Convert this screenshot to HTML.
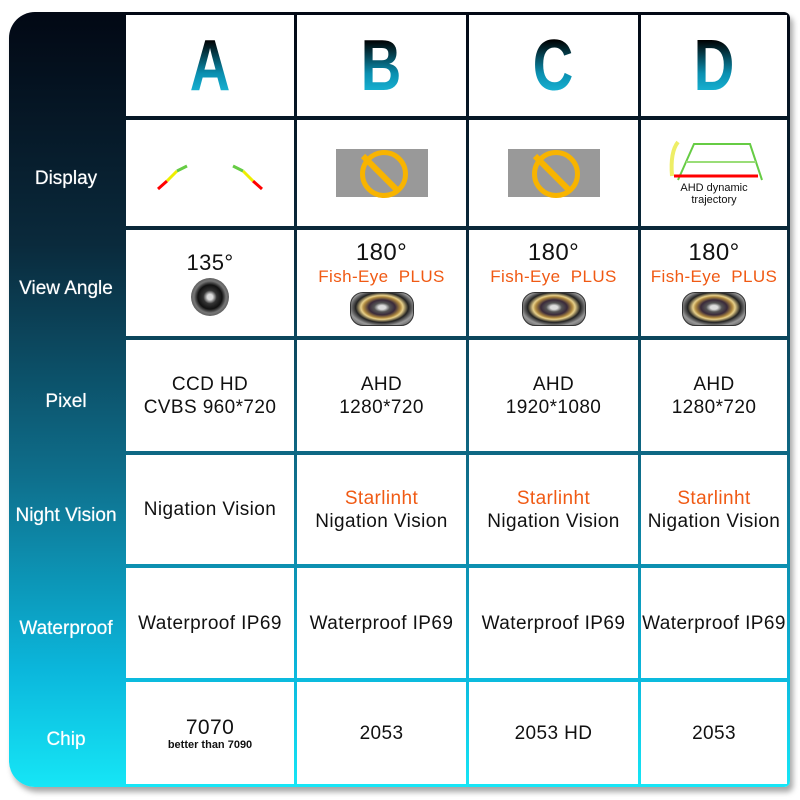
<!DOCTYPE html>
<html><head><meta charset="utf-8"><style>
body{margin:0;width:800px;height:800px;background:#fff;position:relative;overflow:hidden;font-family:"Liberation Sans",sans-serif}
#box{position:absolute;left:9px;top:12px;width:781px;height:775px;border-radius:26px 6px 6px 26px;background:linear-gradient(#020814 0%,#0a2a3c 30%,#0e6f8c 60%,#0bb7dc 85%,#16e6f6 100%);box-shadow:3px 5px 6px rgba(0,0,0,.35);overflow:hidden}
.c{position:absolute;background:#fff;display:flex;flex-direction:column;align-items:center;justify-content:center;text-align:center;color:#111;font-size:19px;line-height:23px;letter-spacing:.4px}
.l{position:absolute;left:0;width:114px;color:#fff;font-size:19px;display:flex;align-items:center;justify-content:center;text-align:center;padding-top:12px;box-sizing:border-box;text-shadow:0 0 .6px #fff}
.h{font-size:72px;font-weight:bold;background:linear-gradient(#000 15%,#0a8fb0 60%,#20c8e8);-webkit-background-clip:text;color:transparent;line-height:74px;display:inline-block;transform:scaleX(.78)}
.o{color:#f05a14}
.lens{width:62px;height:32px;border-radius:13px;background:radial-gradient(ellipse at 50% 45%,#ddd 0 8%,#555 18%,#3a2a3a 30%,#b08a40 42%,#e8d08a 48%,#222 60%,#999 75%,#444 100%);border:1px solid #333;margin-top:4px}
.no{width:92px;height:48px;background:#999;position:relative}
.no:after{content:"";position:absolute;left:24px;top:1px;width:38px;height:38px;border:5px solid #f8b400;border-radius:50%}
.no:before{content:"";position:absolute;left:41px;top:0;width:6px;height:48px;background:#f8b400;transform:rotate(-45deg);z-index:1}
</style></head><body>
<div id="box">
<div class="l" style="top:106px;height:110px">Display</div>
<div class="l" style="top:216px;height:110px">View Angle</div>
<div class="l" style="top:326px;height:115px">Pixel</div>
<div class="l" style="top:441px;height:113px">Night Vision</div>
<div class="l" style="top:554px;height:114px">Waterproof</div>
<div class="l" style="top:668px;height:107px">Chip</div>

<div class="c" style="left:117px;top:3px;width:168px;height:101px"><span class="h">A</span></div>
<div class="c" style="left:288px;top:3px;width:169px;height:101px"><span class="h">B</span></div>
<div class="c" style="left:460px;top:3px;width:169px;height:101px"><span class="h">C</span></div>
<div class="c" style="left:632px;top:3px;width:146px;height:101px"><span class="h">D</span></div>

<div class="c" style="left:117px;top:108px;width:168px;height:106px"><svg width="110" height="40"><g stroke-width="3" fill="none"><path d="M3 36 L12 28" stroke="red"/><path d="M12 28 L22 18" stroke="#ee0"/><path d="M22 18 L32 13" stroke="#6c4"/><path d="M107 36 L98 28" stroke="red"/><path d="M98 28 L88 18" stroke="#ee0"/><path d="M88 18 L78 13" stroke="#6c4"/></g></svg></div>
<div class="c" style="left:288px;top:108px;width:169px;height:106px"><div class="no"></div></div>
<div class="c" style="left:460px;top:108px;width:169px;height:106px"><div class="no"></div></div>
<div class="c" style="left:632px;top:108px;width:146px;height:106px"><svg width="100" height="42"><g fill="none" stroke-width="2"><path d="M14 40 L30 4 L86 4 L98 40" stroke="#6c4"/><path d="M22 22 L92 22" stroke="#9d7"/><path d="M10 36 L94 36" stroke="red" stroke-width="3"/><path d="M8 36 Q6 12 14 2" stroke="#ee6" stroke-width="4"/></g></svg><div style="font-size:11px;line-height:12px;letter-spacing:0">AHD dynamic<br>trajectory</div></div>

<div class="c" style="left:117px;top:218px;width:168px;height:106px"><div style="font-size:22px">135°</div><div style="width:38px;height:38px;border-radius:50%;background:radial-gradient(circle,#ddd 0 10%,#333 25%,#111 45%,#777 60%,#222 100%);margin-top:4px"></div></div>
<div class="c" style="left:288px;top:218px;width:169px;height:106px"><div style="font-size:24px;line-height:25px">180°</div><div class="o" style="font-size:17px">Fish-Eye&nbsp; PLUS</div><div class="lens"></div></div>
<div class="c" style="left:460px;top:218px;width:169px;height:106px"><div style="font-size:24px;line-height:25px">180°</div><div class="o" style="font-size:17px">Fish-Eye&nbsp; PLUS</div><div class="lens"></div></div>
<div class="c" style="left:632px;top:218px;width:146px;height:106px"><div style="font-size:24px;line-height:25px">180°</div><div class="o" style="font-size:17px">Fish-Eye&nbsp; PLUS</div><div class="lens"></div></div>

<div class="c" style="left:117px;top:328px;width:168px;height:111px">CCD HD<br>CVBS 960*720</div>
<div class="c" style="left:288px;top:328px;width:169px;height:111px">AHD<br>1280*720</div>
<div class="c" style="left:460px;top:328px;width:169px;height:111px">AHD<br>1920*1080</div>
<div class="c" style="left:632px;top:328px;width:146px;height:111px">AHD<br>1280*720</div>

<div class="c" style="left:117px;top:443px;width:168px;height:109px">Nigation Vision</div>
<div class="c" style="left:288px;top:443px;width:169px;height:109px"><span class="o">Starlinht</span>Nigation Vision</div>
<div class="c" style="left:460px;top:443px;width:169px;height:109px"><span class="o">Starlinht</span>Nigation Vision</div>
<div class="c" style="left:632px;top:443px;width:146px;height:109px"><span class="o">Starlinht</span>Nigation Vision</div>

<div class="c" style="left:117px;top:556px;width:168px;height:110px">Waterproof IP69</div>
<div class="c" style="left:288px;top:556px;width:169px;height:110px">Waterproof IP69</div>
<div class="c" style="left:460px;top:556px;width:169px;height:110px">Waterproof IP69</div>
<div class="c" style="left:632px;top:556px;width:146px;height:110px">Waterproof IP69</div>

<div class="c" style="left:117px;top:670px;width:168px;height:102px"><span style="font-size:21px">7070</span><span style="font-size:11px;line-height:12px;font-weight:bold;letter-spacing:0">better than 7090</span></div>
<div class="c" style="left:288px;top:670px;width:169px;height:102px">2053</div>
<div class="c" style="left:460px;top:670px;width:169px;height:102px">2053 HD</div>
<div class="c" style="left:632px;top:670px;width:146px;height:102px">2053</div>
</div>
</body></html>
